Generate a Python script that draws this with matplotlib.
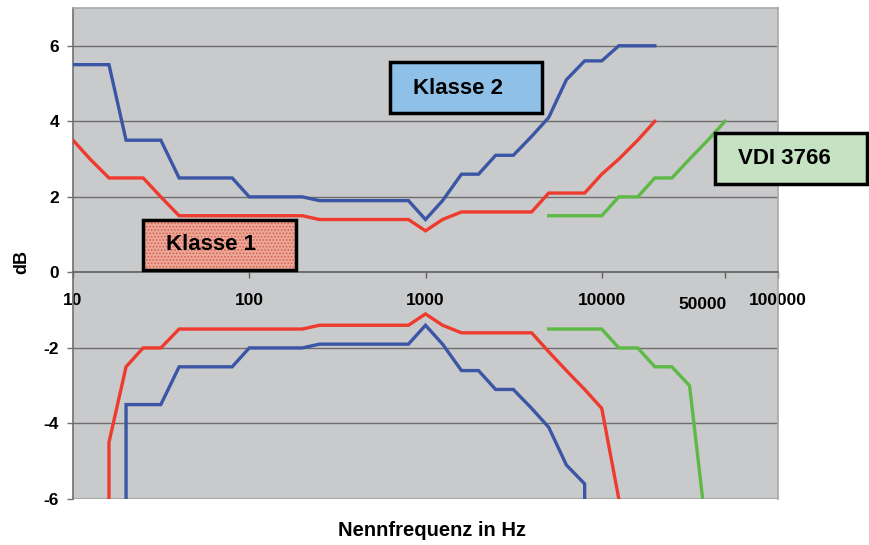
import numpy as np
import matplotlib
matplotlib.use("Agg")
import matplotlib.pyplot as plt
from matplotlib.patches import Rectangle
from matplotlib.transforms import ScaledTranslation

plt.rcParams['font.family'] = ['Liberation Sans', 'DejaVu Sans']
plt.rcParams['font.weight'] = 'bold'

nan = np.nan
INF = np.inf
freqs = [10, 12.5, 16, 20, 25, 31.5, 40, 50, 63, 80, 100, 125, 160, 200, 250, 315,
         400, 500, 630, 800, 1000, 1250, 1600, 2000, 2500, 3150, 4000, 5000, 6300,
         8000, 10000, 12500, 16000, 20000, 25000, 31500, 40000, 50000]

klasse2_upper = [5.5, 5.5, 5.5, 3.5, 3.5, 3.5, 2.5, 2.5, 2.5, 2.5, 2.0, 2.0, 2.0, 2.0,
                 1.9, 1.9, 1.9, 1.9, 1.9, 1.9, 1.4, 1.9, 2.6, 2.6, 3.1, 3.1, 3.6, 4.1,
                 5.1, 5.6, 5.6, 6.0, 6.0, 6.0, nan, nan, nan, nan]
klasse2_lower = [-INF, -INF, -INF, -3.5, -3.5, -3.5, -2.5, -2.5, -2.5, -2.5, -2.0, -2.0, -2.0, -2.0,
                 -1.9, -1.9, -1.9, -1.9, -1.9, -1.9, -1.4, -1.9, -2.6, -2.6, -3.1, -3.1, -3.6, -4.1,
                 -5.1, -5.6, -INF, -INF, -INF, -INF, nan, nan, nan, nan]
klasse1_upper = [3.5, 3.0, 2.5, 2.5, 2.5, 2.0, 1.5, 1.5, 1.5, 1.5, 1.5, 1.5, 1.5, 1.5,
                 1.4, 1.4, 1.4, 1.4, 1.4, 1.4, 1.1, 1.4, 1.6, 1.6, 1.6, 1.6, 1.6, 2.1,
                 2.1, 2.1, 2.6, 3.0, 3.5, 4.0, nan, nan, nan, nan]
klasse1_lower = [-INF, -INF, -4.5, -2.5, -2.0, -2.0, -1.5, -1.5, -1.5, -1.5, -1.5, -1.5, -1.5, -1.5,
                 -1.4, -1.4, -1.4, -1.4, -1.4, -1.4, -1.1, -1.4, -1.6, -1.6, -1.6, -1.6, -1.6, -2.1,
                 -2.6, -3.1, -3.6, -6.0, -17.0, -INF, nan, nan, nan, nan]
vdi_upper = [nan] * 27 + [1.5, 1.5, 1.5, 1.5, 2.0, 2.0, 2.5, 2.5, 3.0, 3.5, 4.0]
vdi_lower = [nan] * 27 + [-1.5, -1.5, -1.5, -1.5, -2.0, -2.0, -2.5, -2.5, -3.0, -7.2, nan]

xticks = [10, 100, 1000, 10000, 50000, 100000]
xticklabels = ['10', '100', '1000', '10000', '50000', '100000']
yticks = [-6, -4, -2, 0, 2, 4, 6]

BLUE = '#3B56A5'
RED = '#EE3B2E'
GREEN = '#5DBA47'

W, H = 869, 545
fig = plt.figure(figsize=(W / 100, H / 100), dpi=100)
ax = fig.add_axes([73 / W, 1 - 499 / H, (778 - 73) / W, (499 - 8) / H])
ax.set_facecolor('#C9CACC')
ymin, ymax = -6, 7.0


def curve(vals):
    """Finite points; an unlimited (-inf) neighbour becomes a vertical drop to below the axis."""
    xs, ys = [], []
    n = len(freqs)
    for i in range(n):
        v = vals[i]
        if np.isnan(v) or np.isinf(v):
            continue
        if i > 0 and np.isinf(vals[i - 1]) and not xs:
            xs.append(freqs[i]); ys.append(ymin - 1)
        xs.append(freqs[i]); ys.append(v)
        if i < n - 1 and np.isinf(vals[i + 1]):
            xs.append(freqs[i]); ys.append(ymin - 1)
    return xs, ys


for vals, col in [(klasse2_upper, BLUE), (klasse2_lower, BLUE),
                  (klasse1_upper, RED), (klasse1_lower, RED),
                  (vdi_upper, GREEN), (vdi_lower, GREEN)]:
    x, y = curve(vals)
    ax.plot(x, y, color=col, lw=2.4, solid_joinstyle='miter', zorder=3)

ax.set_xscale('log')
ax.set_xlim(10, 100000)
ax.set_ylim(ymin, ymax)
ax.set_xticks(xticks)
ax.set_xticklabels(xticklabels)
ax.xaxis.set_minor_locator(matplotlib.ticker.NullLocator())
ax.set_yticks(yticks)
ax.set_yticklabels([str(t) for t in yticks])

for t in [-4, -2, 2, 4, 6]:
    ax.axhline(t, color='#6E6E6E', lw=1.0, zorder=1)

for s in ['top', 'right']:
    ax.spines[s].set_color('#A8A8A8')
    ax.spines[s].set_linewidth(1.2)
ax.spines['left'].set_color('#707070')
ax.spines['left'].set_linewidth(1.2)
ax.spines['bottom'].set_position(('data', 0))
ax.spines['bottom'].set_color('#606060')
ax.spines['bottom'].set_linewidth(1.2)
ax.axhline(ymin, color='#A8A8A8', lw=1.5, zorder=1)

ax.tick_params(axis='x', direction='out', length=4, width=1, color='#606060',
               pad=11, labelsize=12.5)
ax.tick_params(axis='y', direction='out', length=4, width=1, color='#707070',
               pad=6, labelsize=12.5)
for lab in ax.get_xticklabels() + ax.get_yticklabels():
    lab.set_fontweight('bold')
# the 50000 label sits a little left of and below its tick in the original
lab50 = ax.get_xticklabels()[4]
lab50.set_transform(lab50.get_transform() + ScaledTranslation(-22 / 100, -4 / 100, fig.dpi_scale_trans))

fig.text(22 / W, 1 - 262 / H, 'dB', rotation=90, ha='center', va='center',
         fontsize=13, fontweight='bold')
fig.text(432 / W, 1 - 531 / H, 'Nennfrequenz in Hz', ha='center', va='center',
         fontsize=14.5, fontweight='bold')


def box(x0, y0, x1, y1, fc, text, tx, ty, hatch=None, hcol=None):
    r = Rectangle((x0 / W, 1 - y1 / H), (x1 - x0) / W, (y1 - y0) / H,
                  transform=fig.transFigure, facecolor=fc, edgecolor=hcol if hatch else fc,
                  lw=0, hatch=hatch, zorder=5)
    fig.add_artist(r)
    b = Rectangle((x0 / W, 1 - y1 / H), (x1 - x0) / W, (y1 - y0) / H,
                  transform=fig.transFigure, fill=False, edgecolor='black', lw=2.5, zorder=6)
    fig.add_artist(b)
    fig.text(tx / W, 1 - ty / H, text, ha='center', va='center', fontsize=16,
             fontweight='bold', zorder=7)


plt.rcParams['hatch.linewidth'] = 0.8
box(390, 62, 542, 113, '#8EC0E8', 'Klasse 2', 458, 88)
box(143, 220, 296, 270, '#EBA899', 'Klasse 1', 211, 245, hatch='.....', hcol='#D8604E')
box(715, 133, 867, 184, '#C5E2C2', 'VDI 3766', 784, 158)

fig.savefig('out.png', dpi=100)
